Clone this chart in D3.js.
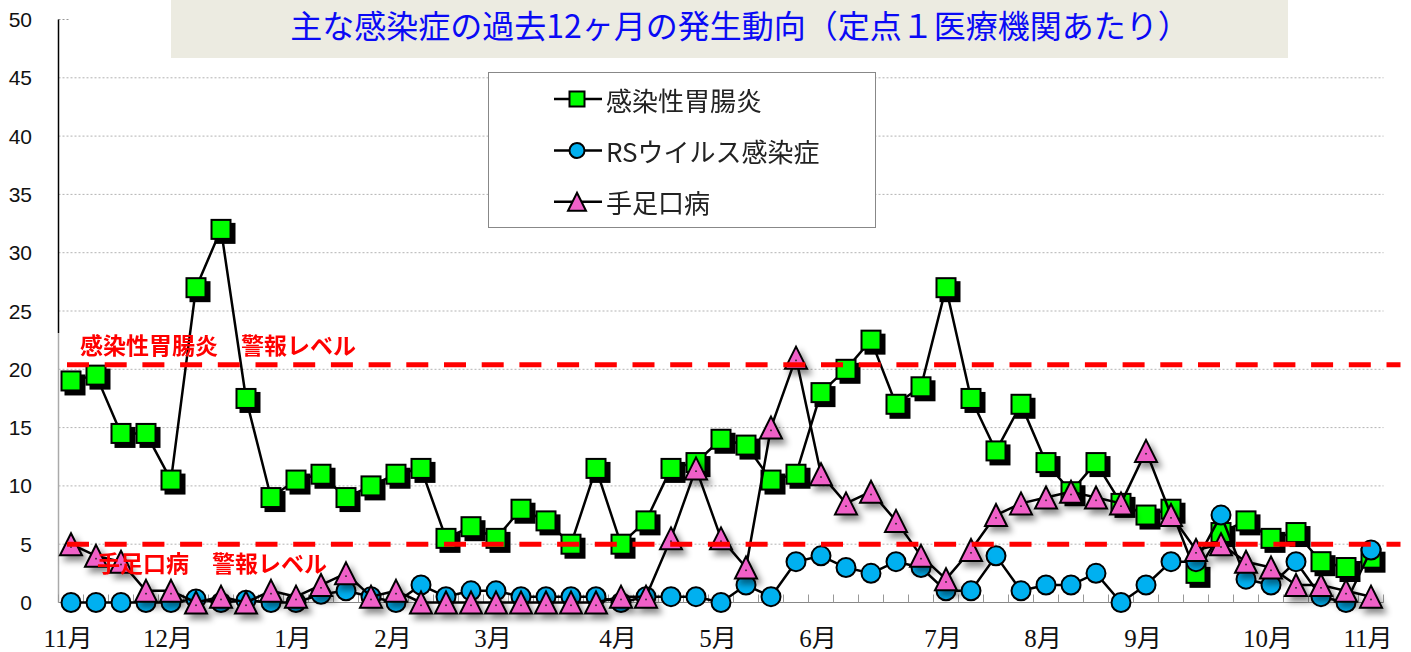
<!DOCTYPE html>
<html>
<head>
<meta charset="utf-8">
<script src="https://cdn.jsdelivr.net/npm/d3@7"></script>
<style>
  body { margin: 0; background: #fff; }
  svg { display: block; }
</style>
</head>
<body>
<script>
// ---- data (weekly values, 53 weeks from Nov to Nov) ----
var weeks = d3.range(53);

var monthTickWeeks  = [0, 4, 9, 13, 17, 22, 26, 30, 35, 39, 43, 48, 52];
var monthTickLabels = ["11月", "12月", "1月", "2月", "3月", "4月", "5月", "6月", "7月", "8月", "9月", "10月", "11月"];

var yTickValues = [0, 5, 10, 15, 20, 25, 30, 35, 40, 45, 50];

var seriesNames = ["感染性胃腸炎", "RSウイルス感染症", "手足口病"];

var gastroValues = [19, 19.5, 14.5, 14.5, 10.5, 27, 32, 17.5, 9, 10.5,
                    11, 9, 10, 11, 11.5, 5.5, 6.5, 5.5, 8, 7,
                    5, 11.5, 5, 7, 11.5, 12, 14, 13.5, 10.5, 11,
                    18, 20, 22.5, 17, 18.5, 27, 17.5, 13, 17, 12,
                    9.5, 12, 8.5, 7.5, 8, 2.5, 6, 7, 5.5, 6,
                    3.5, 3, 3.8];

var rsValues = [0, 0, 0, 0, 0, 0.3, 0, 0.2, 0, 0,
                0.7, 1, 0.5, 0, 1.5, 0.5, 1, 1, 0.5, 0.5,
                0.5, 0.5, 0, 0.5, 0.5, 0.5, 0, 1.5, 0.5, 3.5,
                4, 3, 2.5, 3.5, 3, 1, 1, 4, 1, 1.5,
                1.5, 2.5, 0, 1.5, 3.5, 3.5, 7.5, 2, 1.5, 3.5,
                0.5, 0, 4.5];

var hfmdValues = [5, 4, 3.5, 1, 1, 0, 0.5, 0, 1, 0.5,
                  1.5, 2.5, 0.5, 1, 0, 0, 0, 0, 0, 0,
                  0, 0, 0.5, 0.5, 5.5, 11.5, 5.5, 3, 15, 21,
                  11, 8.5, 9.5, 7, 4, 2, 4.5, 7.5, 8.5, 9,
                  9.5, 9, 8.5, 13, 7.5, 4.5, 5, 3.5, 3, 1.5,
                  1.5, 1, 0.5];

var alertLabels = ["感染性胃腸炎　警報レベル", "手足口病　警報レベル"];
var alertValues = [20.4, 5];

var titleText = "主な感染症の過去12ヶ月の発生動向（定点１医療機関あたり）";

// ---- layout ----
var width = 1411, height = 652;
var plotLeft = 58.5, plotRight = 1383.5, plotTop = 19.5, plotBottom = 602.5;

var cjk = "'Noto Sans CJK JP', 'Noto Sans', sans-serif";

var svg = d3.select("body").append("svg")
    .attr("width", width)
    .attr("height", height);

var x = d3.scaleBand().domain(weeks).range([plotLeft, plotRight]);
var y = d3.scaleLinear().domain([0, 50]).range([plotBottom, plotTop]);
function cx(i) { return x(i) + x.bandwidth() / 2; }

// shadows
var defs = svg.append("defs");
defs.append("filter").attr("id", "hardShadow")
    .attr("x", "-30%").attr("y", "-30%").attr("width", "170%").attr("height", "170%")
  .append("feDropShadow")
    .attr("dx", 4).attr("dy", 4).attr("stdDeviation", 0.6)
    .attr("flood-color", "#000").attr("flood-opacity", 1);
defs.append("filter").attr("id", "softShadow")
    .attr("x", "-50%").attr("y", "-50%").attr("width", "200%").attr("height", "200%")
  .append("feDropShadow")
    .attr("dx", 4).attr("dy", 5).attr("stdDeviation", 3)
    .attr("flood-color", "#000").attr("flood-opacity", 0.45);

// gridlines (dotted) for 5..45
svg.append("g")
  .selectAll("line")
  .data(yTickValues.filter(function(v) { return v > 0 && v < 50; }))
  .enter().append("line")
    .attr("x1", plotLeft).attr("x2", plotRight)
    .attr("y1", function(d) { return y(d); })
    .attr("y2", function(d) { return y(d); })
    .attr("stroke", "#b3b3b3")
    .attr("stroke-width", 1)
    .attr("stroke-dasharray", "2,2");

// short stub at top
svg.append("line")
    .attr("x1", plotLeft).attr("x2", plotLeft + 12)
    .attr("y1", y(50)).attr("y2", y(50))
    .attr("stroke", "#999").attr("stroke-dasharray", "2,2");

// y axis labels
svg.append("g")
  .selectAll("text")
  .data(yTickValues)
  .enter().append("text")
    .attr("x", 32)
    .attr("y", function(d) { return y(d); })
    .attr("dy", "0.36em")
    .attr("text-anchor", "end")
    .style("font", "21px 'Liberation Sans', Arial, sans-serif")
    .attr("fill", "#111")
    .text(function(d) { return d; });

// y axis line: black in upper part, grey below
svg.append("line")
    .attr("x1", plotLeft).attr("x2", plotLeft)
    .attr("y1", y(50)).attr("y2", 333)
    .attr("stroke", "#000").attr("stroke-width", 1.5);
svg.append("line")
    .attr("x1", plotLeft).attr("x2", plotLeft)
    .attr("y1", 333).attr("y2", y(0))
    .attr("stroke", "#aaa").attr("stroke-width", 1.5);

// x axis line and small ticks pointing up
svg.append("line")
    .attr("x1", plotLeft).attr("x2", plotRight)
    .attr("y1", y(0)).attr("y2", y(0))
    .attr("stroke", "#888").attr("stroke-width", 1);
svg.append("g")
  .selectAll("line")
  .data(weeks.concat([weeks.length]))
  .enter().append("line")
    .attr("x1", function(i) { return plotLeft + i * x.step(); })
    .attr("x2", function(i) { return plotLeft + i * x.step(); })
    .attr("y1", y(0)).attr("y2", y(0) - 8)
    .attr("stroke", "#999").attr("stroke-width", 1);

// month labels
svg.append("g")
  .selectAll("text")
  .data(monthTickWeeks)
  .enter().append("text")
    .attr("x", function(i) { return cx(i) - 3; })
    .attr("y", 647)
    .attr("text-anchor", "middle")
    .style("font-family", "'Liberation Serif', 'Noto Sans CJK JP', serif")
    .style("font-size", "25px")
    .attr("fill", "#111")
    .text(function(d, k) { return monthTickLabels[k]; });

// title box
svg.append("rect")
    .attr("x", 171).attr("y", 0)
    .attr("width", 1117).attr("height", 58)
    .attr("fill", "#ecebe1");
svg.append("text")
    .attr("x", 740).attr("y", 24)
    .attr("dominant-baseline", "central")
    .attr("text-anchor", "middle")
    .style("font-family", cjk)
    .style("font-size", "32px")
    .attr("fill", "#0a0af5")
    .text(titleText);

// marker drawing helpers
function triPath(w, h) {
    return "M0," + (-h / 2) + "L" + (w / 2) + "," + (h / 2) + "L" + (-w / 2) + "," + (h / 2) + "Z";
}
var seriesStyle = [
    {values: gastroValues, shape: "square", fill: "#00ff00", filter: "url(#hardShadow)"},
    {values: rsValues,     shape: "circle", fill: "#00b0f0", filter: null},
    {values: hfmdValues,   shape: "triangle", fill: "#f060c8", filter: "url(#softShadow)"}
];

function addMarker(g, shape, fill, size) {
    if (shape === "square") {
        g.append("rect")
            .attr("x", -size / 2).attr("y", -size / 2)
            .attr("width", size).attr("height", size)
            .attr("fill", fill).attr("stroke", "#000").attr("stroke-width", 2);
    } else if (shape === "circle") {
        g.append("circle")
            .attr("r", size / 2)
            .attr("fill", fill).attr("stroke", "#000").attr("stroke-width", 2);
    } else {
        g.append("path")
            .attr("d", triPath(size + 3, size + 3))
            .attr("fill", fill).attr("stroke", "#000").attr("stroke-width", 2)
            .attr("stroke-linejoin", "miter");
    }
}

var line = d3.line()
    .x(function(d, i) { return cx(i); })
    .y(function(d) { return y(d); });

// series: line then markers
seriesStyle.forEach(function(s) {
    var g = svg.append("g");
    g.append("path")
        .attr("d", line(s.values))
        .attr("fill", "none")
        .attr("stroke", "#000")
        .attr("stroke-width", 2.5)
        .attr("stroke-linejoin", "round");

    var mg = g.append("g").attr("filter", s.filter);
    s.values.forEach(function(v, i) {
        var m = mg.append("g").attr("transform", "translate(" + cx(i) + "," + y(v) + ")");
        addMarker(m, s.shape, s.fill, 19);
        if (s.shape === "triangle") {
            m.append("rect").attr("x", -0.8).attr("y", 2).attr("width", 1.6).attr("height", 1.6).attr("fill", "#222");
        }
    });
});

// alert level dashed lines
svg.append("g")
  .selectAll("line")
  .data(alertValues)
  .enter().append("line")
    .attr("x1", cx(0) - 4).attr("x2", plotRight + 17)
    .attr("y1", function(d) { return y(d); })
    .attr("y2", function(d) { return y(d); })
    .attr("stroke", "#ff0000")
    .attr("stroke-width", 5)
    .attr("stroke-dasharray", "22,15.7");

// alert labels
svg.append("g")
  .selectAll("text")
  .data(alertValues)
  .enter().append("text")
    .attr("x", function(d, k) { return k === 0 ? 80 : 97; })
    .attr("y", function(d, k) { return k === 0 ? y(d) - 21 : y(d) + 18; })
    .attr("dominant-baseline", "central")
    .style("font-family", cjk)
    .style("font-size", "23px")
    .style("font-weight", "bold")
    .attr("fill", "#ff0000")
    .text(function(d, k) { return alertLabels[k]; });

// legend
var legend = svg.append("g");
legend.append("rect")
    .attr("x", 488.5).attr("y", 72.5)
    .attr("width", 387).attr("height", 155)
    .attr("fill", "#fff")
    .attr("stroke", "#888").attr("stroke-width", 1);

var legendRows = [99, 150.5, 201.7];
seriesStyle.forEach(function(s, k) {
    var row = legend.append("g").attr("transform", "translate(0," + legendRows[k] + ")");
    row.append("line")
        .attr("x1", 554).attr("x2", 602)
        .attr("stroke", "#000").attr("stroke-width", 2.5);
    var m = row.append("g").attr("transform", "translate(577,0)");
    addMarker(m, s.shape, s.fill, 15);
    row.append("text")
        .attr("x", 606)
        .attr("dominant-baseline", "central")
        .style("font-family", cjk)
        .style("font-size", "26px")
        .attr("fill", "#222")
        .text(seriesNames[k]);
});
</script>
</body>
</html>
